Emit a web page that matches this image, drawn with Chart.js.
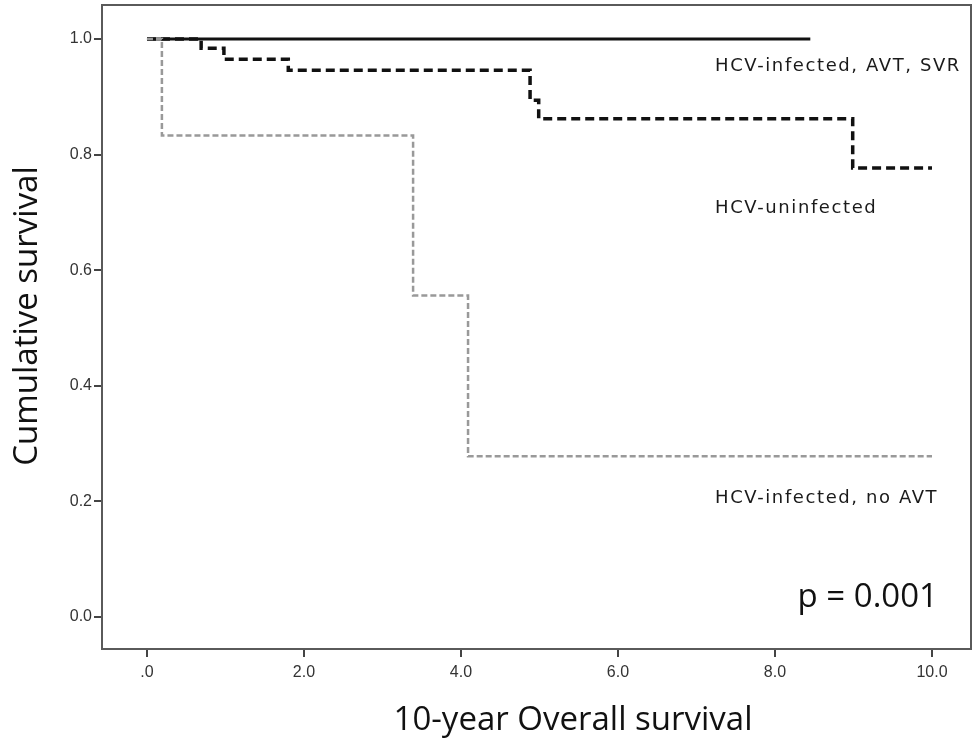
<!DOCTYPE html>
<html>
<head>
<meta charset="utf-8">
<script src="https://cdn.jsdelivr.net/npm/chart.js@4.4.1/dist/chart.umd.min.js"></script>
<style>
  html, body { margin: 0; padding: 0; background: #ffffff; }
  #wrap { width: 972px; height: 742px; }
</style>
</head>
<body>
<div id="wrap"><canvas id="c" width="972" height="742"></canvas></div>
<script>
// ---- Data ----
const svrTimes   = [0, 8.45];
const svrSurv    = [1.0, 1.0];
const uninfTimes = [0, 0.69, 0.98, 1.80, 4.88, 4.99, 8.99, 10.0];
const uninfSurv  = [1.0, 0.984, 0.965, 0.946, 0.894, 0.862, 0.777, 0.777];
const noAvtTimes = [0, 0.19, 3.39, 4.09, 10.0];
const noAvtSurv  = [1.0, 0.833, 0.556, 0.278, 0.278];

const seriesNames = ["HCV-infected, AVT, SVR", "HCV-uninfected", "HCV-infected, no AVT"];
const xTickValues = [0, 2, 4, 6, 8, 10];
const xTickLabels = [".0", "2.0", "4.0", "6.0", "8.0", "10.0"];
const yTickValues = [0, 0.2, 0.4, 0.6, 0.8, 1.0];
const yTickLabels = ["0.0", "0.2", "0.4", "0.6", "0.8", "1.0"];
const xTitle = "10-year Overall survival";
const yTitle = "Cumulative survival";
const pText = "p = 0.001";

function toPoints(ts, ss) { return ts.map((t, i) => ({ x: t, y: ss[i] })); }

// ---- Annotation / frame plugin ----
const decor = {
  id: 'decor',
  afterDraw(chart) {
    const ctx = chart.ctx;
    const a = chart.chartArea;
    const xs = chart.scales.x, ys = chart.scales.y;
    ctx.save();
    // frame
    ctx.strokeStyle = '#5a5a5a';
    ctx.lineWidth = 2;
    ctx.strokeRect(a.left, a.top, a.right - a.left, a.bottom - a.top);

    // series labels
    ctx.fillStyle = '#1a1a1a';
    ctx.font = '18px "DejaVu Sans"';
    ctx.letterSpacing = '1.6px';
    ctx.textAlign = 'left';
    ctx.textBaseline = 'alphabetic';
    ctx.fillText(seriesNames[0], xs.getPixelForValue(7.236), ys.getPixelForValue(0.9446));
    ctx.fillText(seriesNames[1], xs.getPixelForValue(7.236), ys.getPixelForValue(0.699));
    ctx.fillText(seriesNames[2], xs.getPixelForValue(7.236), ys.getPixelForValue(0.197));
    ctx.letterSpacing = '0px';

    // p value
    ctx.font = '33px "Open Sans"';
    ctx.textAlign = 'right';
    ctx.fillStyle = '#111';
    ctx.fillText(pText, xs.getPixelForValue(10.076), ys.getPixelForValue(0.0173));

    // axis titles
    ctx.font = '33px "Open Sans"';
    ctx.textAlign = 'center';
    ctx.fillStyle = '#111';
    ctx.fillText(xTitle, 573, 730);
    ctx.translate(37, 316);
    ctx.rotate(-Math.PI / 2);
    ctx.fillText(yTitle, 0, 0);
    ctx.restore();
  }
};

new Chart(document.getElementById('c'), {
  type: 'line',
  data: {
    datasets: [
      {
        label: seriesNames[2],
        data: toPoints(noAvtTimes, noAvtSurv),
        borderColor: '#999999',
        borderWidth: 2.5,
        borderDash: [6, 3],
        stepped: 'before',
        pointRadius: 0,
        fill: false
      },
      {
        label: seriesNames[0],
        data: toPoints(svrTimes, svrSurv),
        borderColor: '#111111',
        borderWidth: 3,
        stepped: 'before',
        pointRadius: 0,
        fill: false
      },
      {
        label: seriesNames[1],
        data: toPoints(uninfTimes, uninfSurv),
        borderColor: '#111111',
        borderWidth: 3.5,
        borderDash: [9, 5],
        stepped: 'before',
        pointRadius: 0,
        fill: false
      }
    ]
  },
  options: {
    responsive: false,
    animation: false,
    layout: { padding: { top: 5, right: 1, left: 0, bottom: 0 } },
    plugins: { legend: { display: false }, tooltip: { enabled: false } },
    scales: {
      x: {
        type: 'linear',
        min: -0.573,
        max: 10.497,
        afterFit(s) { s.height = 93; s.paddingLeft = 0; s.paddingRight = 0; },
        afterBuildTicks(s) { s.ticks = xTickValues.map(v => ({ value: v })); },
        border: { display: false },
        grid: { display: true, drawOnChartArea: false, drawTicks: true, tickLength: 8, color: '#444', lineWidth: 2 },
        ticks: {
          padding: 6,
          color: '#333',
          font: { family: '"Liberation Sans"', size: 16 },
          maxRotation: 0,
          autoSkip: false,
          callback: (v) => { const i = xTickValues.indexOf(v); return i >= 0 ? xTickLabels[i] : ''; }
        }
      },
      y: {
        type: 'linear',
        min: -0.0554,
        max: 1.0588,
        afterFit(s) { s.width = 102; s.paddingTop = 0; s.paddingBottom = 0; },
        afterBuildTicks(s) { s.ticks = yTickValues.map(v => ({ value: v })); },
        border: { display: false },
        grid: { display: true, drawOnChartArea: false, drawTicks: true, tickLength: 8, color: '#444', lineWidth: 2 },
        ticks: {
          padding: 2,
          color: '#333',
          font: { family: '"Liberation Sans"', size: 16 },
          autoSkip: false,
          callback: (v) => { const i = yTickValues.findIndex(t => Math.abs(t - v) < 1e-9); return i >= 0 ? yTickLabels[i] : ''; }
        }
      }
    }
  },
  plugins: [decor]
});
</script>
</body>
</html>
